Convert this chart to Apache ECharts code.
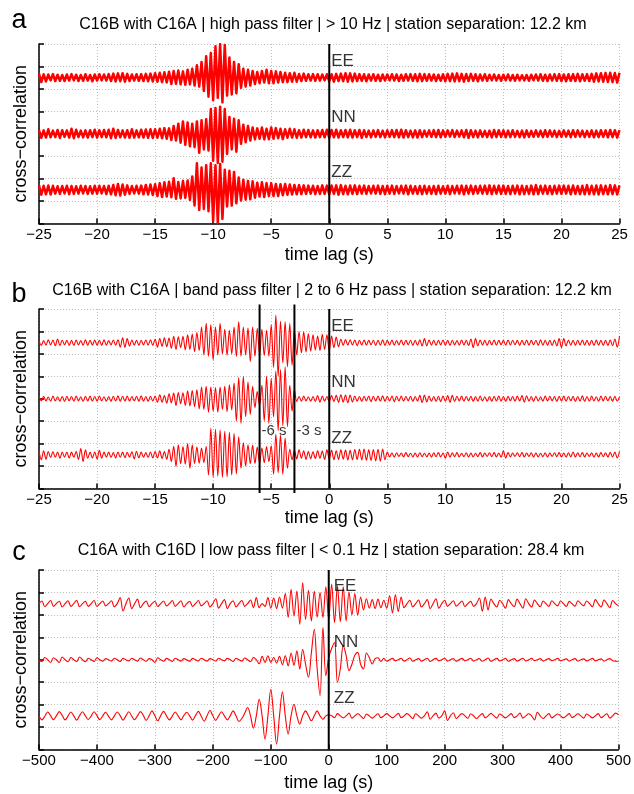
<!DOCTYPE html>
<html><head><meta charset="utf-8">
<script src="https://cdn.jsdelivr.net/npm/echarts/dist/echarts.min.js"></script>
<style>html,body{margin:0;padding:0;background:#fff}#c{width:634px;height:794px}</style>
</head><body><div id="c"></div>
<script>
// ---- text ----
const panelLetters = ['a', 'b', 'c'];
const panelTitles = [
  'C16B with C16A | high pass filter | > 10 Hz | station separation: 12.2 km',
  'C16B with C16A | band pass filter | 2 to 6 Hz pass | station separation: 12.2 km',
  'C16A with C16D | low pass filter | < 0.1 Hz | station separation: 28.4 km'
];
const componentNames = ['EE', 'NN', 'ZZ'];
const yAxisName = 'cross\u2212correlation';
const xAxisName = 'time lag (s)';

// ---- axes (time lag ranges and tick spacing) ----
const xRanges = [[-25, 25, 5], [-25, 25, 5], [-500, 500, 100]];
const yRange = [0, 8, 1];
const traceOffsets = [6.5, 4, 1.5];       // baseline of EE, NN, ZZ traces
const labelY = [[7.24, 4.75, 2.26], [7.24, 4.74, 2.25], [7.29, 4.77, 2.3]];
const sampleStart = [-25, -25, -500];     // time of first sample (s)
const sampleStep = [0.2, 0.2, 5];         // sampling interval (s)
const markerTimes = [-6, -3];             // panel b marker lines
const markerLabels = ['-6 s', '-3 s'];
const markerLabelY = 2.55;

// ---- amplitudes (hundredths of one grid division) ----
// panel a : high pass > 10 Hz
const aEE = [18,-20,15,-17,14,-12,16,-15,13,-14,12,-15,14,-13,16,-12,13,-15,12,-14,15,-13,12,-16,14,
-13,15,-12,14,-13,16,-15,18,-17,19,-16,20,-18,17,-15,14,-13,15,-14,16,-15,17,-16,18,-17,
20,-18,22,-20,24,-22,26,-28,30,-27,32,-30,28,-32,35,-30,40,-35,55,-40,70,-60,95,-85,110,
-100,140,-90,150,-110,145,-80,90,-75,70,-70,60,-45,40,-40,35,-35,30,-28,25,-25,30,-22,35,-25,
30,-25,28,-22,25,-20,22,-20,20,-18,22,-18,16,-15,18,-14,15,-13,16,-14,15,-13,14,-12,15,
-16,15,-18,17,-15,18,-16,20,-18,19,-17,18,-15,16,-14,15,-16,14,-13,15,-14,13,-15,14,-13,
14,-12,15,-13,14,-15,13,-14,15,-13,16,-14,15,-16,17,-15,16,-14,15,-13,14,-15,13,-14,15,
-16,17,-15,18,-17,19,-16,17,-18,16,-15,17,-14,15,-16,14,-13,15,-14,13,-12,14,-13,12,-14,
13,-12,14,-13,12,-14,13,-12,11,-13,12,-14,13,-12,14,-13,15,-14,13,-15,14,-13,15,-14,16,
-15,14,-16,15,-14,16,-15,17,-16,15,-14,16,-15,17,-18,19,-17,20,-18,21,-19,22,-20,21,-22,
22];
const aNN = [16,-18,15,-17,20,-16,14,-15,17,-19,16,-14,15,-17,22,-20,18,-15,14,-16,15,-17,16,-15,18,
-17,16,-15,17,-16,18,-20,22,-19,17,-16,15,-17,16,-18,20,-17,15,-16,18,-17,19,-18,20,-19,
20,-18,22,-20,25,-22,24,-28,35,-30,45,-40,55,-50,50,-56,45,-60,55,-85,60,-70,65,-75,110,
-120,115,-130,120,-125,110,-90,75,-70,67,-80,60,-45,40,-38,35,-30,28,-25,24,-22,28,-25,22,-24,
28,-22,25,-20,22,-24,20,-18,22,-17,20,-18,16,-17,18,-15,17,-16,15,-17,16,-15,17,-16,18,
-18,17,-16,18,-17,16,-15,17,-16,18,-17,16,-15,17,-18,16,-15,14,-16,15,-14,16,-15,14,-16,
15,-14,16,-15,17,-16,18,-17,16,-15,14,-16,15,-17,16,-15,14,-13,15,-14,16,-15,17,-16,15,
-14,15,-13,16,-15,14,-13,15,-16,17,-18,16,-15,14,-16,15,-14,13,-15,14,-16,17,-15,16,-14,
15,-16,14,-15,16,-14,13,-15,14,-16,15,-14,13,-14,15,-13,14,-15,16,-14,15,-13,14,-15,13,
-14,15,-13,14,-15,16,-14,15,-13,14,-15,13,-14,15,-16,14,-15,16,-14,15,-16,17,-15,16,-17,
16];
const aZZ = [20,-22,18,-20,19,-21,18,-17,16,-18,17,-16,18,-19,17,-18,16,-17,18,-16,17,-18,16,-17,18,
-17,18,-16,17,-19,18,-20,22,-24,26,-25,24,-22,20,-18,17,-16,18,-17,19,-20,22,-21,24,-23,
25,-28,30,-32,34,-30,36,-33,52,-40,35,-38,40,-36,42,-45,60,-70,118,-90,100,-85,110,-95,118,
-140,110,-148,115,-130,90,-74,85,-70,80,-60,55,-48,45,-44,40,-42,38,-35,32,-30,34,-32,30,-28,
30,-28,26,-27,25,-24,26,-22,24,-21,22,-20,21,-19,20,-18,19,-17,18,-19,17,-18,20,-18,19,
-20,19,-18,20,-22,21,-19,18,-20,19,-18,20,-19,18,-17,19,-18,17,-16,18,-17,19,-18,17,-19,
18,-17,19,-18,17,-16,18,-17,19,-20,18,-17,16,-18,17,-19,18,-17,16,-18,17,-19,18,-17,16,
-17,18,-19,17,-16,18,-17,19,-20,18,-17,19,-18,17,-16,18,-17,19,-18,20,-19,18,-17,19,-18,
19,-18,17,-19,18,-17,19,-20,18,-19,17,-18,19,-20,21,-19,18,-17,19,-18,17,-19,18,-17,19,
-18,19,-17,18,-20,19,-18,17,-19,18,-20,21,-19,18,-20,19,-21,20,-19,18,-20,21,-19,20,-21,
20];
// panel b : band pass 2-6 Hz
const bEE = [10,-12,9,-11,13,-10,12,-14,16,-13,11,-9,10,-12,11,-13,12,-10,9,-11,13,-12,10,-11,12,
-11,10,-12,13,-11,9,-10,12,-11,13,-20,22,-21,18,-15,12,-11,10,-12,11,-10,12,-11,13,-12,
15,-20,18,-16,22,-18,20,-25,28,-30,26,-22,28,-32,35,-30,38,-40,45,-35,70,-55,86,-60,80,
-77,70,-55,86,-50,60,-56,55,-50,70,-62,93,-60,70,-55,65,-84,70,-60,64,-55,60,-58,55,-60,
80,-110,123,-150,95,-90,93,-107,85,-100,60,-55,50,-45,48,-42,40,-38,35,-32,30,-35,37,-30,35,
-37,30,-22,25,-18,15,-12,14,-11,13,-10,12,-14,11,-10,12,-11,10,-9,11,-12,10,-11,13,-12,
11,-10,12,-11,9,-10,12,-11,10,-9,11,-12,10,-11,13,-15,18,-14,12,-11,10,-12,11,-10,12,
-11,10,-12,11,-10,9,-11,12,-10,11,-13,16,-22,18,-14,12,-11,10,-12,11,-10,12,-11,10,-9,
10,-11,12,-10,11,-9,10,-12,11,-10,12,-11,10,-9,11,-12,13,-11,10,-12,11,-13,12,-15,18,
-22,18,-15,12,-11,10,-12,11,-10,12,-11,10,-12,11,-13,12,-11,10,-12,11,-13,12,-14,16,-20,
30];
const bNN = [10,-9,11,-10,8,-11,12,-10,9,-11,10,-12,11,-9,10,-11,12,-10,9,-12,11,-10,12,-11,10,
-11,12,-10,9,-11,10,-12,11,-10,13,-12,11,-10,12,-11,10,-9,11,-12,13,-11,10,-12,11,-10,
12,-15,18,-16,14,-20,22,-18,25,-30,28,-22,26,-30,35,-32,37,-35,40,-45,52,-48,55,-60,52,
-55,50,-60,52,-48,55,-58,62,-50,70,-100,95,-110,100,-80,74,-70,55,-40,32,-30,60,-98,100,-110,
90,-80,124,-142,130,-120,142,-124,60,-55,40,-12,10,-11,12,-10,9,-11,10,-12,14,-15,12,-11,10,
-12,14,-13,15,-16,18,-15,17,-18,16,-14,12,-11,10,-12,11,-10,12,-13,11,-10,12,-11,13,-12,
11,-10,12,-13,11,-10,12,-11,10,-9,11,-12,10,-11,15,-17,16,-14,12,-11,10,-12,11,-13,12,
-11,14,-16,15,-12,11,-10,12,-11,10,-9,11,-12,10,-11,12,-10,9,-11,10,-12,11,-10,12,-11,
10,-12,11,-9,10,-11,12,-10,14,-15,13,-11,10,-12,11,-10,9,-11,12,-10,11,-9,10,-12,11,
-10,12,-11,10,-9,11,-12,10,-11,13,-12,10,-11,12,-10,9,-11,12,-10,11,-9,10,-12,11,-10,
9];
const bZZ = [20,-22,18,-20,15,-12,14,-11,13,-15,12,-10,13,-14,12,-11,15,-20,28,-30,22,-15,12,-14,13,
-18,20,-15,12,-11,13,-12,10,-14,13,-11,12,-13,11,-10,14,-18,16,-13,12,-11,10,-12,13,-14,
15,-14,18,-16,15,-20,25,-30,38,-52,45,-40,37,-42,50,-60,45,-38,35,-37,30,-35,37,-90,118,
-100,114,-95,110,-100,105,-98,100,-90,95,-85,80,-60,55,-50,45,-40,42,-38,35,-37,30,-35,37,-30,
40,-86,92,-80,88,-86,75,-60,25,-22,20,-18,22,-15,18,-20,15,-17,14,-16,18,-15,17,-20,22,
-18,20,-22,18,-20,22,-19,21,-23,20,-22,24,-21,25,-23,26,-24,22,-25,24,-27,25,-28,26,-22,
12,-9,8,-10,9,-7,8,-9,10,-8,7,-9,8,-10,9,-8,7,-9,8,-10,9,-8,10,-9,8,
-15,12,-10,9,-8,10,-9,7,-8,9,-10,8,-9,7,-8,10,-9,8,-7,9,-8,10,-9,8,-10,
18,-14,10,-9,8,-7,9,-8,10,-9,8,-7,9,-10,8,-9,7,-8,9,-10,8,-7,9,-8,10,
-9,8,-10,9,-8,12,-10,9,-8,10,-9,8,-7,9,-10,8,-9,10,-8,9,-10,11,-9,12,-14,
15];
// panel c : low pass < 0.1 Hz
const cEE = [0,12,-13,0,14,-12,0,11,-15,0,13,-12,0,15,-14,0,10,-12,0,14,
-13,0,12,-10,0,13,-14,0,27,-33,0,25,-22,0,20,-18,0,12,-14,0,
11,-13,0,12,-10,0,14,-12,0,13,-15,0,11,-12,0,14,-10,0,13,-15,
0,22,-20,0,18,-22,0,13,-15,0,14,-12,0,16,-18,27,-18,0,-12,27,
-20,25,-22,30,-20,45,-62,64,-55,56,-92,93,-70,60,-77,55,-60,50,-62,75,
-70,86,-84,80,-80,75,-77,52,-50,45,-52,30,-28,22,-20,18,-22,20,-18,15,
-20,35,-41,40,-35,30,-18,0,15,-14,0,16,-15,0,18,-22,0,22,-20,0,
15,-12,0,13,-11,0,12,-13,0,10,-12,0,25,-34,30,-28,20,0,-15,15,
0,-20,18,0,-14,20,0,-20,22,0,-15,16,0,-14,12,0,-12,13,0,-10,
12,0,-13,10,0,-11,13,0,-10,12,0,-14,18,0,-15,16,0,-18,14,0,
-10];
const cNN = [0,-8,10,0,-12,9,0,-12,12,0,-9,10,0,-8,12,0,-9,7,0,-8,
9,0,-7,5,0,-6,7,0,-8,6,0,-5,7,0,-6,8,0,-7,5,0,
-12,9,0,-7,6,0,-8,7,0,-6,5,0,-7,6,0,-5,7,0,-6,5,
0,-6,7,0,-5,6,0,-8,7,0,-6,8,0,-9,10,0,-18,15,-12,18,
-12,10,-14,15,-22,18,-27,30,-25,40,-41,47,-20,-78,30,136,-40,-160,144,-71,
10,50,77,-100,-40,62,20,-49,-20,20,33,-20,-41,30,10,-19,5,9,-8,6,
-7,0,6,-5,0,7,-6,0,8,-7,0,5,-6,0,7,-8,0,6,-5,0,
7,-6,0,5,-7,0,6,-5,0,7,-6,0,5,-7,0,8,-7,0,6,-5,
0,6,-7,0,5,-6,0,7,-5,0,6,-4,0,5,-6,0,5,-4,0,6,
-5,0,4,-6,0,5,-6,0,4,-5,0,6,-5,0,4,-6,0,5,-4,-6,
-8];
const cZZ = [0,-18,-2,17,1,-17,0,19,2,-18,-1,17,0,-19,1,18,0,-16,-1,18,
1,-17,0,16,-2,-18,0,17,1,-19,0,18,-1,-17,0,19,2,-20,0,22,
0,-22,1,20,0,-18,-1,17,0,-18,2,16,0,-19,1,20,-2,-24,0,25,
0,-20,0,18,0,-18,0,22,0,-25,-12,12,37,0,-55,0,74,0,-104,0,
118,0,-126,0,107,0,-81,0,52,0,-37,0,22,0,-22,0,22,0,-15,0,
5,0,-8,10,0,-9,0,12,-10,0,9,0,-12,8,0,-10,0,9,-8,0,
10,0,-9,0,11,-8,0,10,0,-12,9,0,-11,0,18,-15,0,12,-10,0,
22,-20,0,14,-12,0,10,0,-11,9,0,-12,0,10,-9,0,11,0,-10,8,
0,-9,0,10,-8,0,12,-10,0,9,0,-18,16,0,-12,0,10,-9,0,8,
0,-9,0,10,-8,0,9,0,-10,8,0,-9,0,10,-8,0,9,-10,0,12,
5];

const traces = [[aEE, aNN, aZZ], [bEE, bNN, bZZ], [cEE, cNN, cZZ]];

// ---- layout ----
const FONT = '"Liberation Sans", Arial, Helvetica, sans-serif';
const gridTops = [44, 309, 570];
const gridH = 179.5;
const gridLeft = 39, gridW = 580.5;
const nameGaps = [23, 21, 25];

const minus = v => String(v).replace('-', '\u2212');

const grids = [], xAxes = [], yAxes = [], series = [], graphics = [];
for (let p = 0; p < 3; p++) {
  grids.push({left: gridLeft, top: gridTops[p], width: gridW, height: gridH, containLabel: false});
  const [xmin, xmax, xint] = xRanges[p];
  xAxes.push({
    type: 'value', gridIndex: p, min: xmin, max: xmax, interval: xint,
    axisLine: {show: true, onZero: false, lineStyle: {color: '#000', width: 1.5}},
    axisTick: {show: true, inside: true, length: 5, lineStyle: {color: '#000', width: 1.5}},
    axisLabel: {show: true, margin: 4, fontSize: 15, color: '#000', fontFamily: FONT, formatter: minus},
    splitLine: {show: true, lineStyle: {color: '#bdbdbd', type: [1, 2], width: 1}},
    name: xAxisName, nameLocation: 'middle', nameGap: nameGaps[p],
    nameTextStyle: {fontSize: 18, color: '#000', fontFamily: FONT}
  });
  yAxes.push({
    type: 'value', gridIndex: p, min: yRange[0], max: yRange[1], interval: yRange[2],
    axisLine: {show: true, onZero: false, lineStyle: {color: '#000', width: 1.5}},
    axisTick: {show: true, inside: true, length: 5, lineStyle: {color: '#000', width: 1.5}},
    axisLabel: {show: false},
    splitLine: {show: true, lineStyle: {color: '#bdbdbd', type: [1, 2], width: 1}}
  });
  // traces
  traces[p].forEach((vals, k) => {
    series.push({
      type: 'line', xAxisIndex: p, yAxisIndex: p, name: panelLetters[p] + componentNames[k],
      data: vals.map((v, i) => [+(sampleStart[p] + i * sampleStep[p]).toFixed(3), traceOffsets[k] + v / 100]),
      symbol: 'none', showSymbol: false, smooth: p === 0 ? false : 0.35,
      lineStyle: {color: '#ff0000', width: p === 0 ? 2.5 : 1.1, join: 'round'},
      silent: true, animation: false, z: 2
    });
  });
  // zero-lag line
  series.push({
    type: 'line', xAxisIndex: p, yAxisIndex: p, data: [[0, yRange[0]], [0, yRange[1]]],
    symbol: 'none', lineStyle: {color: '#000', width: 2}, silent: true, animation: false, z: 5
  });
  // component labels
  series.push({
    type: 'scatter', xAxisIndex: p, yAxisIndex: p, symbolSize: 0, silent: true, animation: false, z: 6,
    data: componentNames.map((n, k) => [0, labelY[p][k], n]),
    label: {show: true, position: 'right', distance: p === 2 ? 5 : 2, formatter: d => d.data[2],
      fontSize: 17, color: '#000', fontFamily: FONT}
  });
  // panel letter and title
  graphics.push({type: 'text', x: 19, y: [21, 294.3, 552.7][p],
    style: {text: panelLetters[p], fontSize: 27, fill: '#000', font: '27px ' + FONT, align: 'center', verticalAlign: 'middle'}});
  graphics.push({type: 'text', x: [333, 332, 331][p], y: [25, 290.8, 550.8][p],
    style: {text: panelTitles[p], fontSize: 16, fill: '#000', font: '16px ' + FONT, align: 'center', verticalAlign: 'middle'}});
  graphics.push({type: 'text', x: 21.5, y: gridTops[p] + gridH / 2, rotation: Math.PI / 2,
    style: {text: yAxisName, fontSize: 18, fill: '#000', font: '18px ' + FONT, align: 'center', verticalAlign: 'middle'}});
}
// panel b marker lines and labels
markerTimes.forEach((t, i) => {
  series.push({
    type: 'line', xAxisIndex: 1, yAxisIndex: 1, data: [[t, -0.2], [t, 8.2]], clip: false,
    symbol: 'none', lineStyle: {color: '#000', width: 2}, silent: true, animation: false, z: 5
  });
});
series.push({
  type: 'scatter', xAxisIndex: 1, yAxisIndex: 1, symbolSize: 0, silent: true, animation: false, z: 6,
  data: markerTimes.map((t, i) => [t, markerLabelY, markerLabels[i]]),
  label: {show: true, position: 'right', distance: 2, formatter: d => d.data[2],
    fontSize: 15, color: '#000', fontFamily: FONT}
});

const chart = echarts.init(document.getElementById('c'), null, {renderer: 'canvas'});
chart.setOption({
  animation: false, backgroundColor: '#fff',
  grid: grids, xAxis: xAxes, yAxis: yAxes, series: series, graphic: graphics
});
</script></body></html>
